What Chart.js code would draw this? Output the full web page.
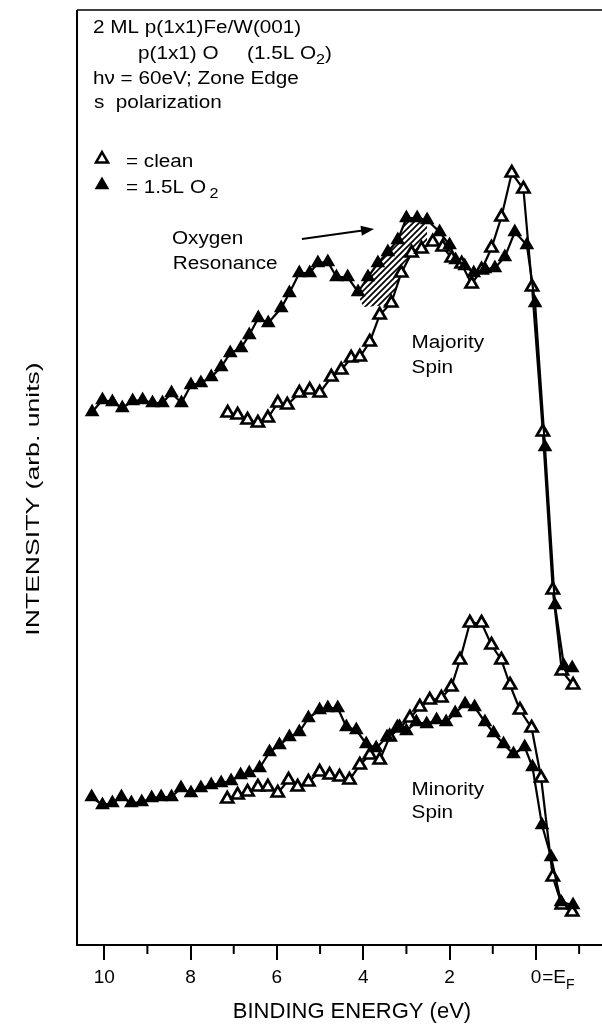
<!DOCTYPE html>
<html>
<head>
<meta charset="utf-8">
<title>Spin-resolved photoemission, Fe/W(001) + O</title>
<script src="https://cdn.jsdelivr.net/npm/chart.js@4.4.0/dist/chart.umd.min.js"></script>
<style>
  html, body { margin: 0; padding: 0; background: #fff; overflow: hidden; }
  #wrap { width: 602px; height: 1027px; position: relative; }
  canvas { display: block; }
</style>
</head>
<body>
<div id="wrap"><canvas id="spectra"></canvas></div>
<script>
// Binding energy (eV) and intensity (arb. units) for each spectrum

// Majority spin, 1.5L O2 (filled triangles)
const majO2Energy = [10.28, 10.04, 9.81, 9.58, 9.34, 9.11, 8.88, 8.65, 8.44, 8.21,
  7.99, 7.76, 7.52, 7.29, 7.08, 6.83, 6.64, 6.43, 6.20, 5.90,
  5.71, 5.48, 5.24, 5.05, 4.82, 4.62, 4.36, 4.12, 3.89, 3.66,
  3.43, 3.20, 3.00, 2.75, 2.52, 2.23, 2.00, 1.86, 1.65, 1.44,
  1.18, 0.95, 0.72, 0.49, 0.21, 0.02, -0.21, -0.44, -0.65, -0.84];
const majO2Int = [53.3, 54.5, 54.3, 53.7, 54.4, 54.5, 54.2, 54.2, 55.2, 54.2,
  56.0, 56.2, 56.8, 57.8, 59.2, 59.7, 61.0, 62.7, 62.2, 63.7,
  65.2, 67.2, 67.2, 68.2, 68.3, 66.8, 66.8, 65.3, 66.8, 68.2,
  69.3, 70.5, 72.7, 72.7, 72.5, 71.3, 70.0, 68.5, 67.9, 67.2,
  67.6, 67.7, 68.8, 71.3, 70.0, 64.2, 49.8, 34.0, 27.9, 27.7];

// Majority spin, clean (open triangles)
const majCleanEnergy = [7.14, 6.91, 6.68, 6.44, 6.21, 5.98, 5.76, 5.48, 5.24, 5.01,
  4.74, 4.51, 4.28, 4.08, 3.85, 3.62, 3.35, 3.12, 2.88, 2.65,
  2.39, 2.16, 1.95, 1.72, 1.49, 1.26, 1.03, 0.80, 0.56, 0.29,
  0.09, -0.16, -0.39, -0.60, -0.86];
const majCleanInt = [53.2, 53.0, 52.5, 52.2, 52.7, 54.2, 54.0, 55.2, 55.5, 55.2,
  56.8, 57.5, 58.7, 58.8, 60.3, 63.0, 64.2, 67.2, 69.2, 69.6,
  70.3, 69.8, 68.7, 68.1, 66.1, 67.5, 69.7, 72.8, 77.2, 75.6,
  65.8, 51.3, 35.5, 27.4, 26.0];

// Minority spin, 1.5L O2
const minO2Energy = [10.29, 10.04, 9.81, 9.60, 9.37, 9.13, 8.90, 8.68, 8.44, 8.22,
  7.99, 7.76, 7.52, 7.29, 7.06, 6.84, 6.64, 6.40, 6.17, 5.94,
  5.71, 5.48, 5.27, 5.01, 4.82, 4.59, 4.39, 4.16, 3.93, 3.70,
  3.45, 3.21, 3.00, 2.77, 2.53, 2.30, 2.08, 1.87, 1.64, 1.42,
  1.18, 0.98, 0.75, 0.52, 0.26, 0.08, -0.14, -0.35, -0.58, -0.86];
const minO2Int = [14.8, 14.0, 14.2, 14.8, 14.2, 14.3, 14.7, 14.8, 14.8, 15.7,
  15.2, 15.7, 16.0, 16.2, 16.4, 17.0, 17.2, 17.7, 19.3, 20.0,
  20.8, 21.3, 22.7, 23.5, 23.7, 23.7, 21.8, 21.5, 20.1, 19.7,
  20.8, 21.8, 21.4, 22.3, 22.1, 22.5, 22.3, 23.2, 24.1, 23.8,
  22.3, 21.2, 20.1, 19.1, 19.8, 17.8, 12.0, 8.8, 4.3, 4.0];

// Minority spin, clean
const minCleanEnergy = [7.15, 6.91, 6.68, 6.44, 6.21, 5.98, 5.73, 5.52, 5.27, 5.01,
  4.78, 4.55, 4.32, 4.08, 3.85, 3.62, 3.39, 3.16, 2.92, 2.69,
  2.46, 2.19, 1.96, 1.76, 1.53, 1.26, 1.03, 0.80, 0.60, 0.37,
  0.10, -0.12, -0.39, -0.60, -0.84];
const minCleanInt = [14.6, 15.0, 15.3, 15.8, 15.8, 15.2, 16.5, 15.8, 16.3, 17.3,
  17.0, 16.8, 16.5, 18.0, 19.0, 18.5, 20.8, 21.7, 22.7, 23.8,
  24.5, 24.7, 25.8, 28.5, 32.2, 32.2, 30.0, 28.5, 26.0, 23.5,
  21.7, 16.7, 6.8, 4.0, 3.3];

// Oxygen resonance: hatched between the O2 curve and this lower edge
const resonanceRange = [2.52, 4.12];
const resonanceLowerEnergy = [4.12, 4.00, 3.35, 3.12, 2.88, 2.65, 2.52];
const resonanceLowerInt = [65.0, 63.8, 64.0, 67.2, 69.2, 69.8, 70.1];

// Axis ticks
const majorTicks = [10, 8, 6, 4, 2, 0];
const minorTicks = [9, 7, 5, 3, 1, -1];
const energyRange = [-1.53, 10.63];
const intensityRange = [0, 93.5];

const FONT = '"Liberation Sans", Arial, Helvetica, sans-serif';
const SX = 1.15; // lettering in this figure runs a bit wide

function pts(es, is) {
  return es.map((e, i) => ({ x: e, y: is[i] }));
}

const resonanceUpper = pts(majO2Energy, majO2Int)
  .filter(p => p.x >= resonanceRange[0] && p.x <= resonanceRange[1]);

function hatchPattern(ctx) {
  const c = document.createElement('canvas');
  c.width = 6; c.height = 6;
  const g = c.getContext('2d');
  g.strokeStyle = '#000';
  g.lineWidth = 1.7;
  g.beginPath();
  g.moveTo(0, 6); g.lineTo(6, 0);
  g.moveTo(-1, 1); g.lineTo(1, -1);
  g.moveTo(5, 7); g.lineTo(7, 5);
  g.stroke();
  return ctx.createPattern(c, 'repeat');
}

// text runs: plain strings or {sub: '2'} for subscripts
function drawRuns(ctx, runs, x, y, size, sx) {
  ctx.save();
  ctx.translate(x, y);
  ctx.scale(sx, 1);
  ctx.fillStyle = '#000';
  ctx.textBaseline = 'alphabetic';
  ctx.textAlign = 'left';
  let cx = 0;
  runs.forEach(r => {
    const isSub = typeof r !== 'string';
    const t = isSub ? r.sub : r;
    const fs = isSub ? Math.round(size * 0.75) : size;
    ctx.font = fs + 'px ' + FONT;
    if (isSub && r.gap) cx += r.gap;
    ctx.fillText(t, cx, isSub ? size * 0.3 : 0);
    cx += ctx.measureText(t).width;
  });
  ctx.restore();
}

function triangle(ctx, x, y, r, hollow) {
  ctx.save();
  ctx.beginPath();
  for (let k = 0; k < 3; k++) {
    const a = k * 2 * Math.PI / 3;
    const px = x + Math.sin(a) * r, py = y - Math.cos(a) * r;
    if (k === 0) ctx.moveTo(px, py); else ctx.lineTo(px, py);
  }
  ctx.closePath();
  ctx.fillStyle = hollow ? '#fff' : '#000';
  ctx.fill();
  ctx.lineWidth = hollow ? 2.5 : 1.5;
  ctx.strokeStyle = '#000';
  ctx.stroke();
  ctx.restore();
}

const decorations = {
  id: 'decorations',
  afterDraw(chart) {
    const { ctx, chartArea: a, scales: { x, y } } = chart;
    ctx.save();
    ctx.strokeStyle = '#000';
    ctx.fillStyle = '#000';

    // frame: left and top
    ctx.lineWidth = 2;
    ctx.beginPath();
    ctx.moveTo(a.left, a.bottom);
    ctx.lineTo(a.left, a.top);
    ctx.stroke();
    ctx.lineWidth = 1.5;
    ctx.beginPath();
    ctx.moveTo(a.left, a.top);
    ctx.lineTo(a.right, a.top);
    ctx.stroke();

    // minor ticks
    ctx.lineWidth = 2;
    minorTicks.forEach(v => {
      const px = x.getPixelForValue(v);
      ctx.beginPath();
      ctx.moveTo(px, a.bottom);
      ctx.lineTo(px, a.bottom + 9);
      ctx.stroke();
    });

    // tick labels
    ctx.font = '19px ' + FONT;
    ctx.textAlign = 'center';
    ctx.textBaseline = 'alphabetic';
    const labelY = a.bottom + 38;
    majorTicks.forEach(v => {
      ctx.fillText(String(v), x.getPixelForValue(v), labelY);
    });
    // "=E_F" after the zero label
    const px0 = x.getPixelForValue(0) + ctx.measureText('0').width / 2 + 1;
    drawRuns(ctx, ['=E', { sub: 'F' }], px0, labelY, 19, 1);

    // axis titles
    ctx.font = '22px ' + FONT;
    ctx.textAlign = 'center';
    ctx.fillText('BINDING ENERGY (eV)', 352, a.bottom + 73);

    ctx.save();
    ctx.translate(39, 499);
    ctx.rotate(-Math.PI / 2);
    ctx.scale(1.4, 1);
    ctx.font = '19px ' + FONT;
    ctx.textAlign = 'center';
    ctx.fillText('INTENSITY (arb. units)', 0, 0);
    ctx.restore();

    // sample description, top left
    const tx = a.left + 16;
    drawRuns(ctx, ['2 ML p(1x1)Fe/W(001)'], tx, a.top + 23, 18, SX);
    drawRuns(ctx, ['p(1x1) O'], tx + 45, a.top + 49, 18, SX);
    drawRuns(ctx, ['(1.5L O', { sub: '2' }, ')'], tx + 154, a.top + 49, 18, SX);
    drawRuns(ctx, ['h\u03bd = 60eV; Zone Edge'], tx, a.top + 74, 18, SX);
    drawRuns(ctx, ['s  polarization'], tx + 1, a.top + 98, 18, SX);

    // legend
    triangle(ctx, a.left + 25, a.top + 149, 7, true);
    drawRuns(ctx, ['= clean'], a.left + 49, a.top + 157, 18, SX);
    triangle(ctx, a.left + 25, a.top + 175, 7, false);
    drawRuns(ctx, ['= 1.5L O', { sub: '2', gap: 3 }], a.left + 49, a.top + 183, 18, SX);

    // oxygen resonance label and arrow
    drawRuns(ctx, ['Oxygen'], x.getPixelForValue(8.43), y.getPixelForValue(70.15), 18, SX);
    drawRuns(ctx, ['Resonance'], x.getPixelForValue(8.41), y.getPixelForValue(67.65), 18, SX);
    const ax0 = x.getPixelForValue(5.42), ay0 = y.getPixelForValue(70.6);
    const ax1 = x.getPixelForValue(3.75), ay1 = y.getPixelForValue(71.6);
    const ang = Math.atan2(ay1 - ay0, ax1 - ax0);
    ctx.lineWidth = 2;
    ctx.beginPath();
    ctx.moveTo(ax0, ay0);
    ctx.lineTo(ax1 - 8 * Math.cos(ang), ay1 - 8 * Math.sin(ang));
    ctx.stroke();
    ctx.beginPath();
    ctx.moveTo(ax1, ay1);
    ctx.lineTo(ax1 - 13 * Math.cos(ang) + 5 * Math.sin(ang), ay1 - 13 * Math.sin(ang) - 5 * Math.cos(ang));
    ctx.lineTo(ax1 - 13 * Math.cos(ang) - 5 * Math.sin(ang), ay1 - 13 * Math.sin(ang) + 5 * Math.cos(ang));
    ctx.closePath();
    ctx.fill();

    // spin channel labels
    drawRuns(ctx, ['Majority'], x.getPixelForValue(2.88), y.getPixelForValue(59.7), 18, SX);
    drawRuns(ctx, ['Spin'], x.getPixelForValue(2.88), y.getPixelForValue(57.2), 18, SX);
    drawRuns(ctx, ['Minority'], x.getPixelForValue(2.88), y.getPixelForValue(15.05), 18, SX);
    drawRuns(ctx, ['Spin'], x.getPixelForValue(2.88), y.getPixelForValue(12.7), 18, SX);

    ctx.restore();
  }
};

const ctx = document.getElementById('spectra').getContext('2d');

const filled = {
  showLine: true, borderColor: '#000', borderWidth: 2.2,
  pointStyle: 'triangle', pointRadius: 7,
  pointBackgroundColor: '#000', pointBorderColor: '#000', pointBorderWidth: 1.5,
  fill: false, order: 1
};
const hollow = {
  showLine: true, borderColor: '#000', borderWidth: 2.2,
  pointStyle: 'triangle', pointRadius: 7,
  pointBackgroundColor: '#fff', pointBorderColor: '#000', pointBorderWidth: 2.7,
  fill: false, order: 2
};

new Chart(ctx, {
  type: 'scatter',
  data: {
    datasets: [
      Object.assign({ label: 'Majority 1.5L O2', data: pts(majO2Energy, majO2Int) }, filled),
      Object.assign({ label: 'Minority 1.5L O2', data: pts(minO2Energy, minO2Int) }, filled),
      Object.assign({ label: 'Majority clean', data: pts(majCleanEnergy, majCleanInt) }, hollow),
      Object.assign({ label: 'Minority clean', data: pts(minCleanEnergy, minCleanInt) }, hollow),
      {
        label: 'Oxygen resonance',
        data: resonanceUpper,
        showLine: true, borderWidth: 0, pointRadius: 0,
        backgroundColor: hatchPattern(ctx),
        fill: '+1', order: 5
      },
      {
        label: 'Resonance edge',
        data: pts(resonanceLowerEnergy, resonanceLowerInt),
        showLine: true, borderWidth: 0, pointRadius: 0,
        fill: false, order: 5
      }
    ]
  },
  options: {
    responsive: true,
    maintainAspectRatio: false,
    animation: false,
    events: [],
    layout: { autoPadding: false, padding: { left: 77, top: 10, right: 0, bottom: 0 } },
    scales: {
      x: {
        type: 'linear',
        reverse: true,
        min: energyRange[0],
        max: energyRange[1],
        afterBuildTicks: s => { s.ticks = majorTicks.map(v => ({ value: v })); },
        afterFit: s => { s.height = 82; },
        ticks: { display: false },
        grid: { drawOnChartArea: false, color: '#000', lineWidth: 2, tickLength: 15 },
        border: { color: '#000', width: 2 }
      },
      y: {
        display: false,
        min: intensityRange[0],
        max: intensityRange[1]
      }
    },
    plugins: {
      legend: { display: false },
      tooltip: { enabled: false }
    }
  },
  plugins: [decorations]
});
</script>
</body>
</html>
